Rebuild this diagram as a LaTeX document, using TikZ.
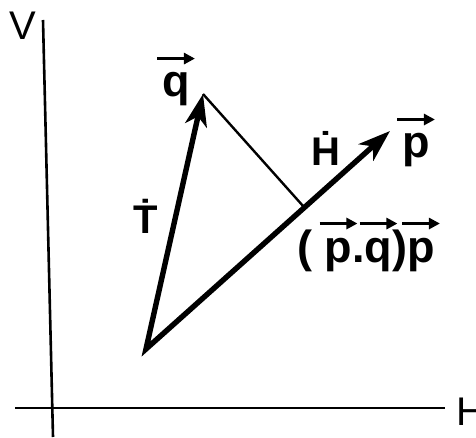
\documentclass[tikz,border=0pt]{standalone}
\usepackage{fontspec}
\setmainfont{Liberation Sans}
\usepackage{tikz}
\usetikzlibrary{arrows.meta,calc}

\newcommand{\vecarr}[1]{\tikz[baseline=(lt.base)]{\node[inner sep=0pt] (lt) {#1}; \draw[overlay, line width=3pt, -{Triangle[length=11pt,width=11pt]}] ([xshift=-5pt,yshift=14pt]lt.north west) -- ([xshift=5pt,yshift=14pt]lt.north east);}}

\begin{document}
\begin{tikzpicture}[x=1pt, y=1pt,
    axis/.style={line width=2.6pt},
    vec/.style={line width=5.4pt, {Stealth[length=32pt, width=22pt, inset=9pt]}-{Stealth[length=32pt, width=22pt, inset=9pt]}},
    perp/.style={line width=2.4pt},
    lab/.style={font=\bfseries\fontsize{45}{48}\selectfont, inner sep=0pt},
    rate/.style={font=\bfseries\fontsize{40}{44}\selectfont, inner sep=0pt},
    axlab/.style={font=\fontsize{40}{44}\selectfont, inner sep=0pt}
  ]
  \useasboundingbox (0,0) rectangle (476,437);
  % axes
  \coordinate (vtop) at (43,417);
  \coordinate (vbot) at (53,0);
  \coordinate (hleft) at (15,29);
  \coordinate (hright) at (445,29);
  \draw[axis] (vtop) -- (vbot);
  \draw[axis] (hleft) -- (hright);
  \node[axlab] (vlab) at (23,411) {V};
  \node[axlab, anchor=west] (hlab) at (456,25) {H};
  % vectors
  \coordinate (o) at (146,88);
  \coordinate (qtip) at (203,343);
  \coordinate (ptip) at (390,306);
  \coordinate (foot) at ($(o)!(qtip)!(ptip)$);
  \draw[vec] (qtip) -- (o) -- (ptip);
  \draw[perp] (qtip) -- (foot);
  % labels
  \node[lab, anchor=base] (qlab) at (176,340) {\vecarr{q}};
  \node[lab, anchor=base] (plab) at (416,279) {\vecarr{p}};
  \node[rate, anchor=base] (tdot) at (146,204) {\.{T}};
  \node[rate, anchor=base] (hdot) at (326,272) {\.{H}};
  \node[lab, anchor=base] (proj) at (366,175) {( \vecarr{p}.\vecarr{q})\vecarr{p}};
\end{tikzpicture}
\end{document}
